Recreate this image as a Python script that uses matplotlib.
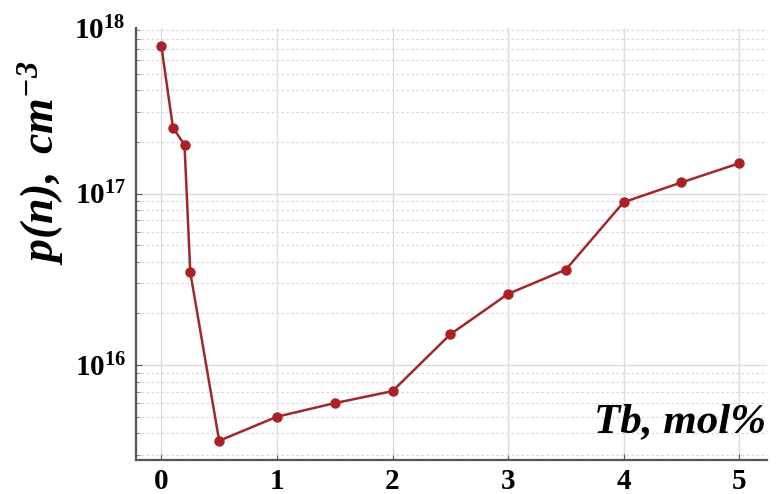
import numpy as np
import matplotlib
matplotlib.use('Agg')
from matplotlib import pyplot as plt
from matplotlib import ticker

# Tb content, mol%
tb = [0, 0.1, 0.2, 0.25, 0.5, 1.0, 1.5, 2.0, 2.5, 3.0, 3.5, 4.0, 4.5, 5.0]
# carrier concentration, cm^-3
p_n = [7.2e17, 2.42e17, 1.92e17, 3.47e16, 3.62e15, 5.0e15, 6.0e15, 7.05e15,
       1.51e16, 2.6e16, 3.6e16, 8.9e16, 1.16e17, 1.5e17]

x_ticks = [0, 1, 2, 3, 4, 5]
y_ticks = [1e16, 1e17]

plt.rcParams['font.family'] = 'Liberation Serif'
plt.rcParams['mathtext.fontset'] = 'custom'
plt.rcParams['mathtext.rm'] = 'Liberation Serif'
plt.rcParams['mathtext.bf'] = 'Liberation Serif:bold'
plt.rcParams['mathtext.it'] = 'Liberation Serif:italic'
plt.rcParams['mathtext.bfit'] = 'Liberation Serif:bold:italic'

fig = plt.figure(figsize=(7.77, 4.94), dpi=100)
ax = fig.add_axes([0.175, 0.069, 0.812, 0.874])

ax.plot(tb, p_n, color='#a0282a', lw=1.8, marker='o', ms=6.5,
        mfc='#b01e24', mec='#a0282a', zorder=3)

ax.set_yscale('log')
ax.set_ylim(2.8e15, 9.2e17)
ax.set_xlim(-0.22, 5.24)

ax.set_xticks(x_ticks)
ax.set_xticklabels([str(v) for v in x_ticks], fontsize=21, fontweight='bold')
ax.set_yticks(y_ticks)
ax.yaxis.set_major_formatter(ticker.FuncFormatter(
    lambda v, pos: r'$\mathbf{10^{%d}}$' % round(np.log10(v))))
ax.yaxis.set_minor_locator(ticker.LogLocator(base=10, subs=np.arange(2, 10)))
ax.yaxis.set_minor_formatter(ticker.NullFormatter())
ax.tick_params(axis='y', which='major', labelsize=21, direction='in', length=4,
               color='#555555', pad=7)
ax.tick_params(axis='y', which='minor', direction='in', length=3, color='#777777')
ax.tick_params(axis='x', direction='in', length=4, color='#555555', pad=6)

# label at the top of the axis
ax.text(-0.017, 0.993, r'$\mathbf{10^{18}}$', transform=ax.transAxes,
        fontsize=21, ha='right', va='center')

ax.grid(True, which='major', axis='both', color='#dcdcdc', lw=1.0)
ax.grid(True, which='minor', axis='y', color='#d8d8d8', lw=0.9, ls=(0, (2, 2)))

for s in ['top', 'right']:
    ax.spines[s].set_visible(False)
for s in ['left', 'bottom']:
    ax.spines[s].set_color('#555555')
    ax.spines[s].set_linewidth(1.6)

fig.text(0.052, 0.67, r'$\mathbfit{p(n),\ cm^{-3}}$', rotation=90,
         fontsize=33, ha='center', va='center')
ax.text(0.998, 0.088, 'Tb, mol%', transform=ax.transAxes, fontsize=31,
        fontweight='bold', fontstyle='italic', ha='right', va='center')

fig.savefig('out.png', dpi=100)
